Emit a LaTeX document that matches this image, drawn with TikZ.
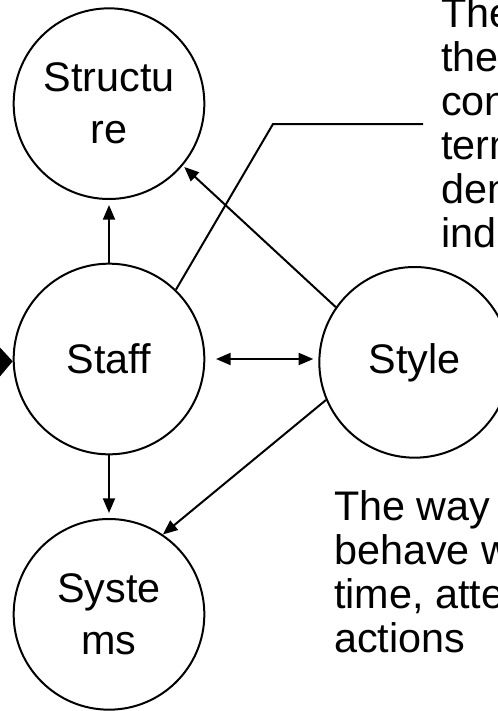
\documentclass[tikz,border=0pt]{standalone}
\usepackage{fontspec}
\setmainfont{Liberation Sans}
\usetikzlibrary{arrows.meta,positioning}

\begin{document}
\begin{tikzpicture}[x=0.75pt,y=0.75pt,
    factor/.style={circle,draw,line width=1.5pt,minimum size=143pt,inner sep=0pt,
      align=center,font=\fontsize{31}{39}\selectfont},
    link/.style={line width=1.5pt,-{Triangle[length=11pt,width=9pt]}},
    twoway/.style={line width=1.5pt,{Triangle[length=11pt,width=9pt]}-{Triangle[length=11pt,width=9pt]}},
    note/.style={align=left,inner sep=0pt,anchor=north west,font=\fontsize{31}{33}\selectfont}]
  \useasboundingbox (0,0) rectangle (498,-711);
  \clip (0,0) rectangle (498,-711);
  \fill[white] (0,0) rectangle (498,-711);

  \node[factor] (staff) at (109,-359) {Staff};
  \node[factor,above=47pt of staff] (structure) {Structu\\re};
  \node[factor,below=47pt of staff] (systems) {Syste\\ms};
  \node[factor,right=84.75pt of staff,yshift=-2.5pt] (style) {Style};

  \draw[link,shorten >=3.75pt] (staff) -- (structure);
  \draw[link,shorten >=3.75pt] (staff) -- (systems);
  \draw[twoway,shorten <=8pt,shorten >=3.75pt] (staff.east) -- (staff.east -| style.west);
  \draw[link,shorten >=1.5pt] (style.145) -- (structure.-40);
  \draw[link] (style.203) -- (systems.56);

  % callout from the staff circle
  \coordinate (bend) at (273,-124);
  \coordinate (tail) at (423,-124);
  \draw[line width=1.5pt] (staff.46) -- (bend) -- (tail);

  % arrow coming in from the left edge
  \coordinate (entry) at (-60,-363);
  \draw[line width=1.5pt,-{Triangle[length=12pt,width=27pt]}] (entry) -- (staff);

  \node[note] (staffnote) at (441,3) {The\\the\\con\\term\\den\\ind};
  \node[note] (stylenote) at (334,-490) {The way\\behave w\\time, atte\\actions};
\end{tikzpicture}
\end{document}
